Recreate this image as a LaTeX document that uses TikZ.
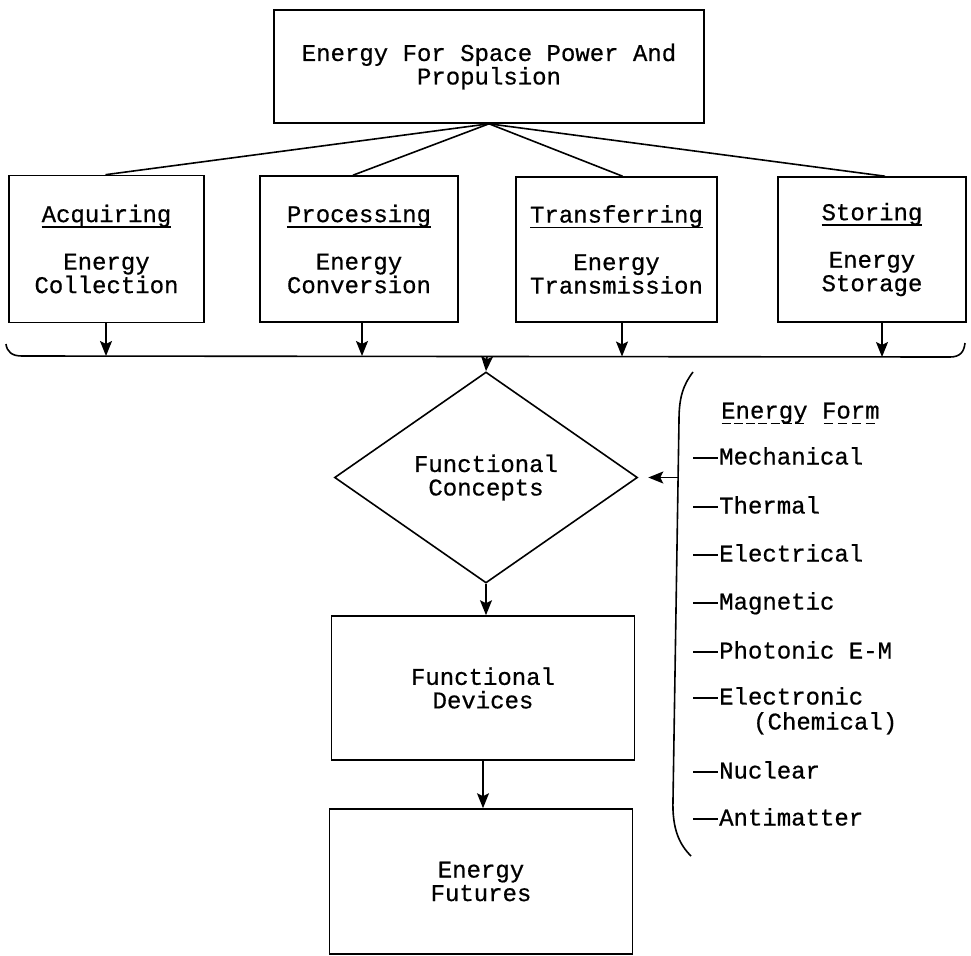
\documentclass[tikz,border=0pt]{standalone}
\usepackage{fontspec}
\setmainfont{Liberation Mono}[FakeBold=0.6]
\usetikzlibrary{arrows.meta,shapes.geometric}
\newcommand\myul[1]{\setbox0\hbox{#1}\rlap{\rule[-5.5pt]{\wd0}{1.5pt}}\box0\relax}
\newcommand\myuldash[1]{\setbox0\hbox{#1}\rlap{\raisebox{-5.5pt}{\hbox to \wd0{\xleaders\hbox{\rule{9pt}{1.3pt}\hspace{3pt}}\hfill}}}\box0\relax}
\newcommand\mydash{\rule[5.5pt]{25pt}{1.7pt}\hspace{1pt}}
\begin{document}
\begin{tikzpicture}[x=1pt,y=-1pt,
  every node/.style={font=\fontsize{24}{23.5}\selectfont},
  box/.style={draw, line width=1.6pt, rectangle, align=center, inner sep=0pt},
  ln/.style={line width=1.6pt},
  arr/.style={line width=1.6pt, -{Stealth[length=15pt,width=12pt,inset=3pt]}},
  item/.style={anchor=base west, inner sep=0pt}
]
\fill[white] (0,0) rectangle (971,955);
\useasboundingbox (0,0) rectangle (971,955);

% top box
\node[box, minimum width=430, minimum height=113] (top) at (489,66.5) {Energy For Space Power And\\Propulsion};

% four boxes
\node[box, minimum width=195, minimum height=147] (b1) at (106.5,249) {\myul{Acquiring}\\[24pt]Energy\\Collection};
\node[box, minimum width=198, minimum height=146] (b2) at (359,249) {\myul{Processing}\\[24pt]Energy\\Conversion};
\node[box, minimum width=201, minimum height=145] (b3) at (616.5,249.5) {\myul{Transferring}\\[24pt]Energy\\Transmission};
\node[box, minimum width=188, minimum height=145] (b4) at (872,249.5) {\myul{Storing}\\[24pt]Energy\\Storage};

% lines from top box
\draw[ln] (top.south) -- ([xshift=-1]b1.north);
\draw[ln] (top.south) -- ([xshift=-6]b2.north);
\draw[ln] (top.south) -- ([xshift=6]b3.north);
\draw[ln] (top.south) -- ([xshift=13]b4.north);

% brace
\coordinate (br1) at (106,356);
\coordinate (br2) at (362,356);
\coordinate (br3) at (622,356.5);
\coordinate (br4) at (882,357);
\coordinate (brc) at (487,356.5);
\draw[ln] (6,344) .. controls (7,352) and (12,356) .. (22,356) -- (950,357) .. controls (960,357) and (964,352) .. (965,343);
\draw[arr] (b1.south -| br1) -- (br1);
\draw[arr] (b2.south -| br2) -- (br2);
\draw[arr] (b3.south -| br3) -- (br3);
\draw[arr] (b4.south -| br4) -- (br4);

% diamond
\node[draw, diamond, line width=1.6pt, minimum width=303, minimum height=211, inner sep=0pt, align=center] (dia) at (486,477.5) {Functional\\Concepts};
\draw[arr] (brc) -- (dia.north);

% lower boxes
\node[box, minimum width=303, minimum height=144] (fd) at (483,688) {Functional\\Devices};
\node[box, minimum width=303, minimum height=145] (fut) at (481,881.5) {Energy\\Futures};
\draw[arr] (dia.south) -- (dia.south |- fd.north);
\draw[arr] (fd.south) -- (fd.south |- fut.north);

% energy form bracket
\draw[ln] (693,372) .. controls (683,385) and (679,398) .. (679,420) -- (673,800) .. controls (672,830) and (680,845) .. (691,856);
\coordinate (efp) at (678,477.5);
\draw[arr, shorten >=10pt] (efp) -- (dia.east);

% energy form list
\node[item] (efh) at (721,418.5) {\myuldash{Energy} \myuldash{Form}};
\node[item] (ef1) at (693,464.5) {\mydash Mechanical};
\node[item] (ef2) at (693,513.5) {\mydash Thermal};
\node[item] (ef3) at (693,561.5) {\mydash Electrical};
\node[item] (ef4) at (693,609.5) {\mydash Magnetic};
\node[item] (ef5) at (693,658.5) {\mydash Photonic E-M};
\node[item] (ef6) at (693,704.5) {\mydash Electronic};
\node[item] (ef6b) at (753,729.5) {(Chemical)};
\node[item] (ef7) at (693,778.5) {\mydash Nuclear};
\node[item] (ef8) at (693,825.5) {\mydash Antimatter};
\end{tikzpicture}
\end{document}
